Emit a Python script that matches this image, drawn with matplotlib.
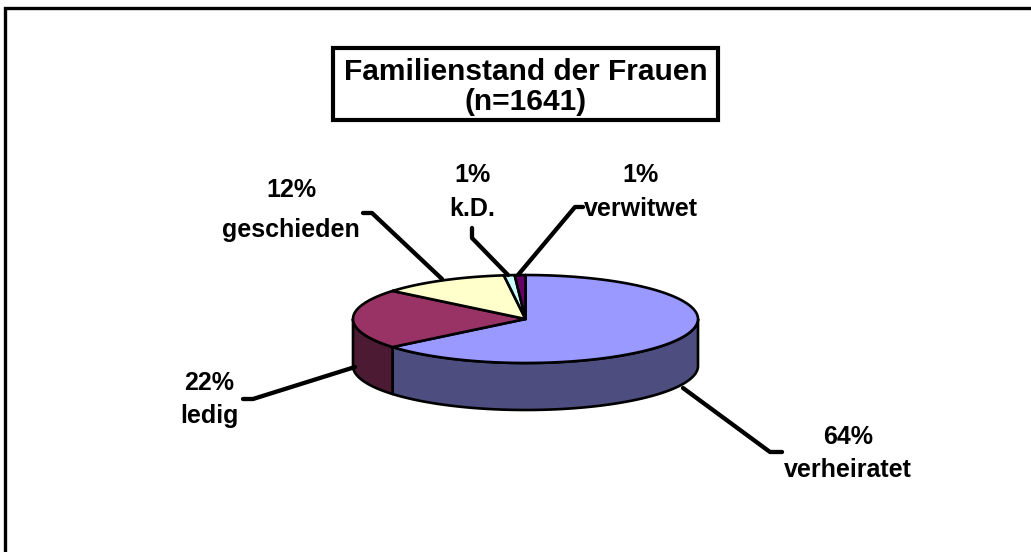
import numpy as np
import matplotlib.pyplot as plt
from matplotlib.patches import Polygon, Rectangle

# Daten
labels = ["verheiratet", "ledig", "geschieden", "k.D.", "verwitwet"]
shares = [64, 22, 12, 1, 1]
top_colors = ["#9999FF", "#993366", "#FFFFCC", "#CCFFFF", "#660066"]
side_colors = ["#4D4D80", "#4D1A33", "#80806A", "#668080", "#330033"]
title_lines = ["Familienstand der Frauen", "(n=1641)"]

# Beschriftungen (Position in Pixel): x, y Prozent, y Name
label_pos = [(848, 437, 470), (209, 383, 416), (291, 190, 230),
             (472, 175, 209), (641, 175, 209)]
leaders = [
    [(683, 388), (770, 452), (782, 452)],
    [(243, 399), (253, 399), (355, 367)],
    [(363, 213), (372, 213), (442, 279)],
    [(472, 228), (472, 238), (508, 275)],
    [(583, 207), (575, 207), (518, 275)],
]

W, H = 1031, 552
cx, cy, rx, ry, depth = 525.5, 319, 172.5, 44, 47
FONT = "Liberation Sans"


def arc(t0, t1, dy=0, n=100):
    t = np.radians(np.linspace(t0, t1, n))
    return np.column_stack([cx + rx * np.cos(t), cy - ry * np.sin(t) + dy])


def main():
    fig = plt.figure(figsize=(W / 100, H / 100), dpi=100)
    ax = fig.add_axes([0, 0, 1, 1])
    ax.set_xlim(0, W)
    ax.set_ylim(H, 0)
    ax.axis("off")

    # Rahmen
    ax.plot([5, 5, W], [H, 8, 8], color="black", lw=2.4, solid_joinstyle="miter")

    cum = np.concatenate([[0], np.cumsum(shares)]) / sum(shares) * 360
    starts = 90 - cum[:-1]
    ends = 90 - cum[1:]

    # Seitenflächen (nur vordere Hälfte sichtbar)
    for a0, a1, col in zip(starts, ends, side_colors):
        lo, hi = max(a1, -180), min(a0, 0)
        if hi <= lo:
            continue
        pts = np.vstack([arc(lo, hi), arc(hi, lo, depth)])
        ax.add_patch(Polygon(pts, closed=True, facecolor=col, edgecolor="black",
                             lw=1.9, joinstyle="round"))

    # Deckflächen
    for a0, a1, col in zip(starts, ends, top_colors):
        pts = np.vstack([[cx, cy], arc(a0, a1)])
        ax.add_patch(Polygon(pts, closed=True, facecolor=col, edgecolor="black",
                             lw=1.9, joinstyle="round"))

    # Führungslinien und Beschriftungen
    for name, v, (x, y1, y2), line in zip(labels, shares, label_pos, leaders):
        xs, ys = zip(*line)
        ax.plot(xs, ys, color="black", lw=3.1, solid_capstyle="round",
                solid_joinstyle="round")
        ax.text(x, y1, f"{v}%", ha="center", va="center", fontsize=18,
                fontweight="bold", family=FONT)
        ax.text(x, y2, name, ha="center", va="center", fontsize=18,
                fontweight="bold", family=FONT)

    # Titel
    ax.add_patch(Rectangle((333, 48), 385, 72, facecolor="white",
                           edgecolor="black", lw=3))
    ax.text(525.5, 72, title_lines[0], ha="center", va="center", fontsize=21.5,
            fontweight="bold", family=FONT)
    ax.text(525.5, 102, title_lines[1], ha="center", va="center", fontsize=21.5,
            fontweight="bold", family=FONT)

    fig.savefig("out.png", dpi=100)


if __name__ == '__main__':
    main()
